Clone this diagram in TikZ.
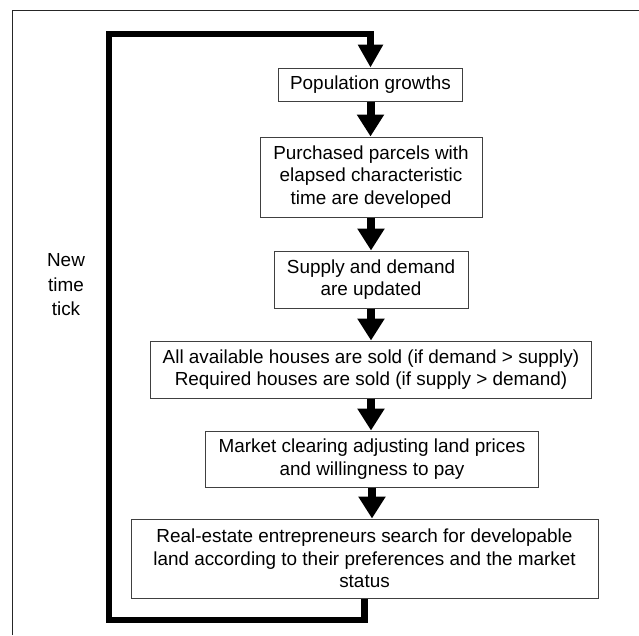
\documentclass[tikz,border=0pt]{standalone}
\usepackage{fontspec}
\setmainfont{Liberation Sans}
\usetikzlibrary{arrows.meta}

\begin{document}
\begin{tikzpicture}[x=1pt, y=-1pt,
		box/.style={draw=black!75, line width=1pt, rectangle, align=center, inner xsep=12pt, inner ysep=4pt,
			font=\fontsize{18.9pt}{22.5pt}\selectfont},
		flow/.style={line width=8pt, -{Triangle[width=26pt, length=22pt]}},
		back/.style={line width=6.5pt, line join=miter, -{Triangle[width=24pt, length=23pt]}}]
				\useasboundingbox (0, 0) rectangle (639, 635);
				\draw[line width=1.5pt, black!85] (12.5, 635) -- (12.5, 10.5) -- (639, 10.5);
				\node[box, minimum width=183pt, minimum height=33pt] (pop)at(370.5, 84.5) {Population growths};
				\node[box, minimum width=222pt, minimum height=80pt] (parcels)at(371, 177) {Purchased parcels with\\elapsed characteristic\\time are developed};
				\node[box, minimum width=194pt, minimum height=57pt] (update)at(371, 279.5) {Supply and demand\\are updated};
				\node[box, minimum width=440pt, minimum height=57pt] (sold)at(371, 369.5) {All available houses are sold (if demand > supply)\\Required houses are sold (if supply > demand)};
				\node[box, minimum width=333pt, minimum height=56pt] (market)at(372, 459) {Market clearing adjusting land prices\\and willingness to pay};
				\node[box, minimum width=467pt, minimum height=79pt] (search)at(364.5, 558.5) {Real-estate entrepreneurs search for developable\\land according to their preferences and the market\\status};
				\node[font=\fontsize{18.9pt}{24.5pt}\selectfont, align=center] (tick)at(66, 285) {New\\time\\tick};
				\coordinate (bottomleft)at(109, 620);
				\coordinate (topleft)at(109, 34);
				\draw[flow] (pop.south) -- (pop.south |- parcels.north);
				\draw[flow] (parcels.south) -- (parcels.south |- update.north);
				\draw[flow] (update.south) -- (update.south |- sold.north);
				\draw[flow] (sold.south) -- (sold.south |- market.north);
				\draw[flow] (market.south) -- (market.south |- search.north);
				\draw[back] (search.south) |- (bottomleft) -- (topleft) -| (pop.north);
			\end{tikzpicture}
\end{document}
